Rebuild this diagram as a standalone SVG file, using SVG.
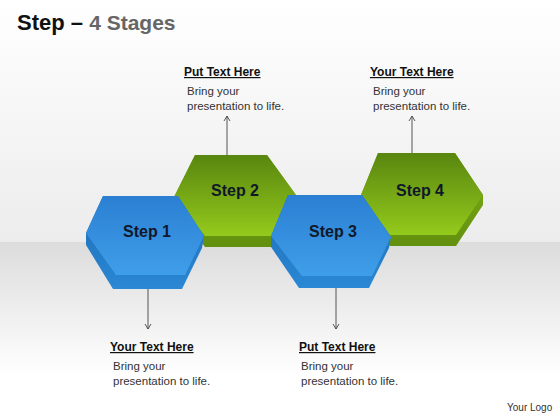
<svg xmlns="http://www.w3.org/2000/svg" width="560" height="420" viewBox="0 0 560 420">
<defs>
<linearGradient id="bgTop" x1="0" y1="0" x2="0" y2="1">
<stop offset="0" stop-color="#ffffff"/><stop offset="1" stop-color="#ececec"/>
</linearGradient>
<linearGradient id="bgBot" x1="0" y1="0" x2="0" y2="1">
<stop offset="0" stop-color="#dcdcdc"/><stop offset="0.75" stop-color="#ffffff"/><stop offset="1" stop-color="#ffffff"/>
</linearGradient>
<linearGradient id="blueFace" x1="0" y1="0" x2="0" y2="1">
<stop offset="0" stop-color="#2b7fd2"/><stop offset="1" stop-color="#3f9ee9"/>
</linearGradient>
<linearGradient id="blueSide" x1="0" y1="0" x2="0" y2="1">
<stop offset="0" stop-color="#1d6ab4"/><stop offset="1" stop-color="#2a88d4"/>
</linearGradient>
<linearGradient id="greenFace" x1="0" y1="0" x2="0" y2="1">
<stop offset="0" stop-color="#58860f"/><stop offset="1" stop-color="#94ca1c"/>
</linearGradient>
<linearGradient id="greenSide" x1="0" y1="0" x2="0" y2="1">
<stop offset="0" stop-color="#7fb016"/><stop offset="1" stop-color="#62900f"/>
</linearGradient>
<marker id="ah" markerWidth="8" markerHeight="8" refX="6" refY="4" orient="auto" markerUnits="userSpaceOnUse">
<path d="M1,1 L6,4 L1,7" fill="none" stroke="#444" stroke-width="0.9"/>
</marker>
</defs>
<style>
.hd{font-family:"Liberation Sans",Arial,sans-serif;font-size:12px;font-weight:bold;fill:#111;text-decoration:underline}
.bd{font-family:"Liberation Sans",Arial,sans-serif;font-size:11.5px;fill:#333}
.st{font-family:"Liberation Sans",Arial,sans-serif;font-size:16px;font-weight:bold;fill:#10182a;text-anchor:middle}
.ln{stroke:#444;stroke-width:0.9;fill:none;marker-end:url(#ah)}
</style>
<rect x="0" y="0" width="560" height="242" fill="url(#bgTop)"/>
<rect x="0" y="242" width="560" height="178" fill="url(#bgBot)"/>
<text x="17" y="30" font-family="Liberation Sans,Arial,sans-serif" font-size="22" font-weight="bold" fill="#111">Step – <tspan fill="#666" font-size="21">4 Stages</tspan></text>

<g id="connectors">
<line class="ln" x1="227" y1="155" x2="227" y2="116"/>
<line class="ln" x1="412" y1="153" x2="412" y2="116"/>
<line class="ln" x1="148" y1="289" x2="148" y2="329"/>
<line class="ln" x1="336" y1="288" x2="336" y2="329"/>
</g>

<g id="step2">
<polygon points="174,197 174,206 205,247 272,247 296,205 296,195 267,155 195,155" fill="url(#greenSide)"/>
<polygon points="195,155 267,155 296,195 272,236 205,236 174,197" fill="url(#greenFace)"/>
<text class="st" x="235" y="196">Step 2</text>
</g>
<g id="step4">
<polygon points="361,195 361,204 390,246 456,246 483,205 483,195 455,153 378,153" fill="url(#greenSide)"/>
<polygon points="378,153 455,153 483,195 456,235 390,235 361,195" fill="url(#greenFace)"/>
<text class="st" x="420" y="196">Step 4</text>
</g>
<g id="step1">
<polygon points="86,233 86,245 113,289 182,289 202,248 204,236 178,196 103,196" fill="url(#blueSide)"/>
<polygon points="103,196 178,196 204,236 185,275 116,275 86,233" fill="url(#blueFace)"/>
<text class="st" x="147" y="237">Step 1</text>
</g>
<g id="step3">
<polygon points="271,236 271,247 299,288 369,288 389,248 391,237 362,195 288,195" fill="url(#blueSide)"/>
<polygon points="288,195 362,195 391,237 372,276 302,276 271,236" fill="url(#blueFace)"/>
<text class="st" x="333" y="237">Step 3</text>
</g>

<g id="label-top1">
<text class="hd" x="184" y="76">Put Text Here</text>
<text class="bd" x="187" y="95">Bring your</text>
<text class="bd" x="187" y="110">presentation to life.</text>
</g>
<g id="label-top2">
<text class="hd" x="370" y="76">Your Text Here</text>
<text class="bd" x="373" y="95">Bring your</text>
<text class="bd" x="373" y="110">presentation to life.</text>
</g>
<g id="label-bot1">
<text class="hd" x="110" y="351">Your Text Here</text>
<text class="bd" x="113" y="370">Bring your</text>
<text class="bd" x="113" y="385">presentation to life.</text>
</g>
<g id="label-bot2">
<text class="hd" x="299" y="351">Put Text Here</text>
<text class="bd" x="301" y="370">Bring your</text>
<text class="bd" x="301" y="385">presentation to life.</text>
</g>
<text x="507" y="411" font-family="Liberation Sans,Arial,sans-serif" font-size="10" fill="#333">Your Logo</text>
</svg>
